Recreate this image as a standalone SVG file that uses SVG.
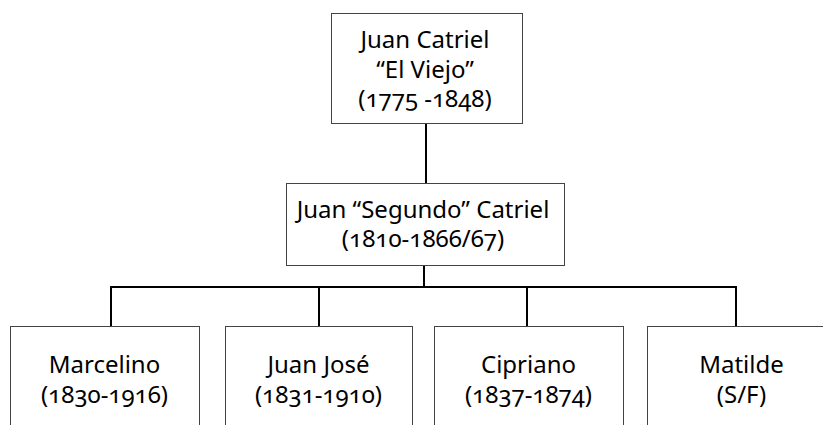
<svg xmlns="http://www.w3.org/2000/svg" width="823" height="425" viewBox="0 0 823 425">
<style>
.box{fill:#fff;stroke:#444;stroke-width:1}
.t{font-family:"Noto Sans","Liberation Sans",sans-serif;font-size:24px;fill:#000;text-anchor:middle;font-variant-numeric:oldstyle-nums;font-feature-settings:"onum" 1}
.c{stroke:#000;stroke-width:2;fill:none}
</style>
<rect width="823" height="425" fill="#fff"/>
<g id="connectors">
<line class="c" x1="426" y1="123" x2="426" y2="183"/>
<line class="c" x1="424" y1="265" x2="424" y2="287"/>
<line class="c" x1="110" y1="287" x2="737" y2="287"/>
<line class="c" x1="111" y1="287" x2="111" y2="326"/>
<line class="c" x1="319" y1="287" x2="319" y2="326"/>
<line class="c" x1="527" y1="287" x2="527" y2="326"/>
<line class="c" x1="736" y1="287" x2="736" y2="326"/>
</g>
<g id="juan-catriel-el-viejo">
<rect class="box" x="331.5" y="13.5" width="191" height="110"/>
<text class="t" x="425" y="48">Juan Catriel</text>
<text class="t" x="425" y="78">“El Viejo”</text>
<text class="t" x="425" y="107">(1775 -1848)</text>
</g>
<g id="juan-segundo-catriel">
<rect class="box" x="286.5" y="183.5" width="278" height="82"/>
<text class="t" x="423" y="218">Juan “Segundo” Catriel</text>
<text class="t" x="423" y="247">(1810-1866/67)</text>
</g>
<g id="marcelino">
<rect class="box" x="10.5" y="326.5" width="189" height="110"/>
<text class="t" x="104.5" y="373">Marcelino</text>
<text class="t" x="104.5" y="403">(1830-1916)</text>
</g>
<g id="juan-jose">
<rect class="box" x="225.5" y="326.5" width="187" height="110"/>
<text class="t" x="318.5" y="373">Juan José</text>
<text class="t" x="318.5" y="403">(1831-1910)</text>
</g>
<g id="cipriano">
<rect class="box" x="434.5" y="326.5" width="189" height="110"/>
<text class="t" x="528.5" y="373">Cipriano</text>
<text class="t" x="528.5" y="403">(1837-1874)</text>
</g>
<g id="matilde">
<rect class="box" x="647.5" y="326.5" width="189" height="110"/>
<text class="t" x="741.5" y="373">Matilde</text>
<text class="t" x="741.5" y="403">(S/F)</text>
</g>
</svg>
